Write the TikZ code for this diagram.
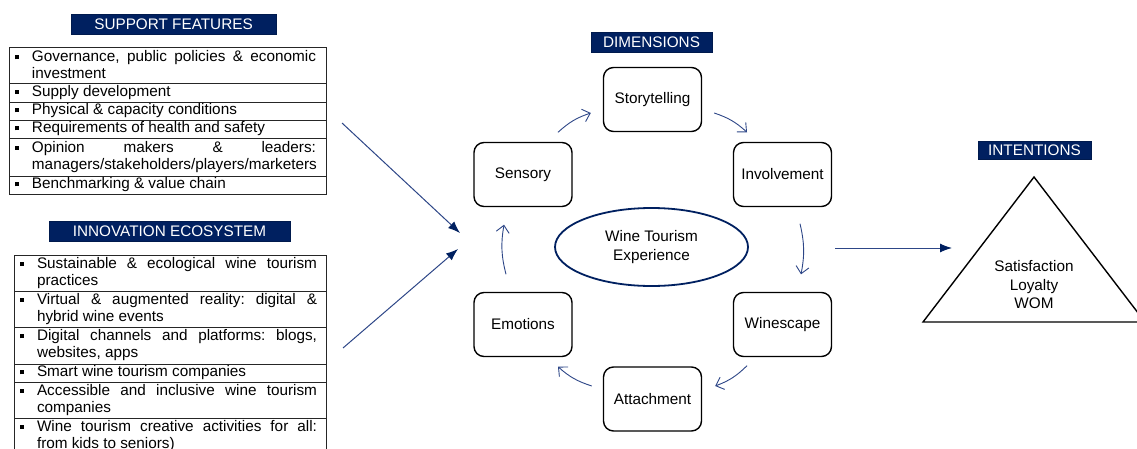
\documentclass[tikz,border=0pt]{standalone}
\usepackage{fontspec}
\setmainfont{Liberation Sans}
\usetikzlibrary{arrows.meta,calc,shapes.geometric}
\definecolor{navy}{RGB}{0,32,96}
\definecolor{flow}{RGB}{45,70,135}
% justified bullet item with hanging bullet; #1 = right margin in pt, #2 = text
\newcommand\itemtext[2]{\leftskip=23pt\rightskip=#1pt\parfillskip=0pt plus 1fil%
  \frenchspacing\spaceskip=0pt\xspaceskip=0pt%
  \hyphenpenalty=10000\exhyphenpenalty=10000\tolerance=10000%
  \noindent\llap{\rule[2.5pt]{4pt}{4pt}\hspace{13pt}}#2\par}
\begin{document}
\begin{tikzpicture}[x=1pt,y=1pt,
  every node/.style={font=\fontsize{15.3}{17}\selectfont},
  banner/.style={fill=navy, draw=navy!80!black, text=white, inner sep=0pt, minimum height=20pt},
  itemrow/.style={draw=black!85, line width=0.8pt, inner xsep=0pt, inner ysep=0pt, anchor=center, align=justify},
  dimbox/.style={draw, rounded corners=10pt, line width=1.4pt, minimum width=98pt, minimum height=64pt, inner sep=0pt},
  cycarrow/.style={draw=flow, line width=0.9pt, -{Straight Barb[length=7pt,width=13pt]}, bend left=12},
  feed/.style={draw=flow, line width=1pt, -{Latex[length=12pt,width=9pt,color=navy]}},
  twoline/.style={align=center, font=\fontsize{15.3}{18.5}\selectfont},
]
\useasboundingbox (0,0) rectangle (1137,448);
\clip (0,0) rectangle (1137,448);

% ---- support features ----
\node[banner, minimum width=205pt] (sfban) at (173.5,424) {SUPPORT FEATURES};
\node[itemrow, text width=317pt, minimum height=36pt] (sf1) at (167.5,383)
  {\itemtext{10}{Governance, public policies \& economic\linebreak investment}};
\node[itemrow, text width=317pt, minimum height=19pt] (sf2) at (167.5,355.5)
  {\itemtext{10}{Supply development}};
\node[itemrow, text width=317pt, minimum height=18pt] (sf3) at (167.5,337)
  {\itemtext{10}{Physical \& capacity conditions}};
\node[itemrow, text width=317pt, minimum height=18pt] (sf4) at (167.5,319)
  {\itemtext{10}{Requirements of health and safety}};
\node[itemrow, text width=317pt, minimum height=38pt] (sf5) at (167.5,291)
  {\itemtext{10}{Opinion makers \& leaders:\linebreak managers/stakeholders/players/marketers}};
\node[itemrow, text width=317pt, minimum height=18pt] (sf6) at (167.5,263)
  {\itemtext{10}{Benchmarking \& value chain}};

% ---- innovation ecosystem ----
\node[banner, minimum width=241pt] (ieban) at (169.5,217) {INNOVATION ECOSYSTEM};
\node[itemrow, text width=312pt, minimum height=36pt] (ie1) at (170,175)
  {\itemtext{9}{Sustainable \& ecological wine tourism\linebreak practices}};
\node[itemrow, text width=312pt, minimum height=36pt] (ie2) at (170,139)
  {\itemtext{9}{Virtual \& augmented reality: digital \&\linebreak hybrid wine events}};
\node[itemrow, text width=312pt, minimum height=37pt] (ie3) at (170,102.5)
  {\itemtext{9}{Digital channels and platforms: blogs,\linebreak websites, apps}};
\node[itemrow, text width=312pt, minimum height=18pt] (ie4) at (170,75)
  {\itemtext{9}{Smart wine tourism companies}};
\node[itemrow, text width=312pt, minimum height=36pt] (ie5) at (170,48)
  {\itemtext{9}{Accessible and inclusive wine tourism\linebreak companies}};
\node[itemrow, text width=312pt, minimum height=36pt] (ie6) at (170,12)
  {\itemtext{9}{Wine tourism creative activities for all:\linebreak from kids to seniors)}};

% ---- dimensions cycle ----
\node[banner, minimum width=121pt] (dimban) at (651.5,406) {DIMENSIONS};
\node[dimbox] (story) at (652.5,348.5) {Storytelling};
\node[dimbox] (sens)  at (523,273.5)   {Sensory};
\node[dimbox] (inv)   at (782.5,273.5) {Involvement};
\node[dimbox] (wine)  at (782.5,123.5) {Winescape};
\node[dimbox] (att)   at (652.5,49)    {Attachment};
\node[dimbox] (emo)   at (523,123.5)   {Emotions};
\node[ellipse, draw=navy, line width=1.8pt, minimum width=193pt, minimum height=78pt,
      twoline] (wte) at (651.5,201) {Wine Tourism\\Experience};

\draw[cycarrow] ($(sens.north)+(35,9.5)$) to ($(story.west)+(-12,-13.5)$);
\draw[cycarrow] ($(story.east)+(12,-13.5)$) to ($(inv.north)+(-35.5,9.5)$);
\draw[cycarrow] ($(inv.south)+(17.5,-16.5)$) to ($(wine.north)+(18.5,17.5)$);
\draw[cycarrow] ($(wine.south)+(-35.5,-8.5)$) to ($(att.east)+(13,13)$);
\draw[cycarrow] ($(att.west)+(-11,13)$) to ($(emo.south)+(35,-9.5)$);
\draw[cycarrow] ($(emo.north)+(-17,17.5)$) to ($(sens.south)+(-19,-17.5)$);

% ---- inputs into the dimensions ----
\coordinate (sfout) at (342,325);
\coordinate (ieout) at (343,100);
\coordinate (dimin1) at (460,215);
\coordinate (dimin2) at (458,199);
\draw[feed] (sfout) -- (dimin1);
\draw[feed] (ieout) -- (dimin2);

% ---- intentions ----
\node[banner, minimum width=113pt, minimum height=18pt] (intban) at (1034.5,298) {INTENTIONS};
\draw[line width=1.4pt] (1034,271) -- (923,126) -- (1145,126) -- cycle;
\node[twoline] (intent) at (1034,163) {Satisfaction\\Loyalty\\WOM};
\coordinate (dimout) at ($(inv.east)!0.5!(wine.east)+(3,1.5)$);
\coordinate (intin) at (952,200);
\draw[feed] (dimout) -- (intin);
\end{tikzpicture}
\end{document}
